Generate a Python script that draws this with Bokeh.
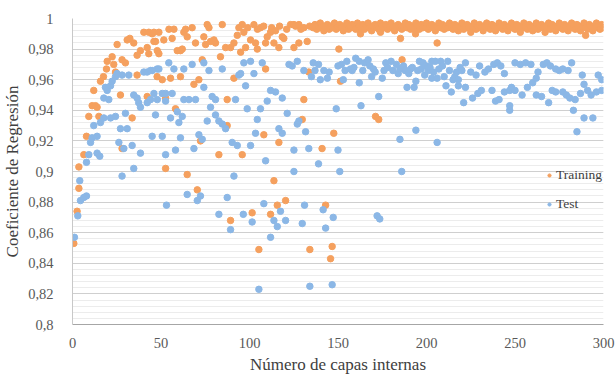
from bokeh.plotting import figure
from bokeh.models import Range1d, FixedTicker, CustomJSTickFormatter, Legend, LegendItem
from bokeh.embed import file_html
from bokeh.resources import INLINE

# ---------------- data ----------------
series_names = ["Training", "Test"]
x_ticks = [0, 50, 100, 150, 200, 250, 300]
y_ticks = [0.8, 0.82, 0.84, 0.86, 0.88, 0.9, 0.92, 0.94, 0.96, 0.98, 1.0]

train_x = [
    0.75, 2.6, 3.6, 3.6, 6.4, 7.9, 9.2, 11.1, 12, 13, 13.9, 14.9, 15.8, 17.5, 19.2, 19.6, 22.4, 23.3, 24.3, 25.2,
    27.1, 28, 28, 29.9, 30.9, 32.4, 33.7, 34.6, 36.5, 36.5, 38.4, 40.3, 42.2, 42.2, 43.1, 43.1, 45, 46, 46, 46.9,
    47.8, 47.9, 48.8, 48.8, 50.7, 51.6, 52.6, 52.6, 54.5, 55.4, 56.3, 57.3, 58.2, 59.2, 61, 61, 62, 62.9, 63.9, 64.8,
    64.8, 67.6, 68.6, 69.5, 70.5, 71.4, 72.3, 73.3, 74.2, 75.2, 76.1, 77.1, 78, 79.9, 80.8, 82.7, 83.6, 84.6, 86.5, 87.4,
    87.4, 89.3, 89.3, 91.2, 91.2, 93.1, 94, 95, 95.9, 95.9, 96.8, 97.8, 99, 100.6, 101.5, 102.5, 103.4, 104.4, 104.5, 105.3,
    106.2, 108, 108.1, 109.1, 109.1, 110, 111.9, 111.9, 112.5, 113.8, 113.8, 114.7, 115.7, 116.6, 116.6, 117, 118.5, 119.4, 120.4, 121,
    123.2, 125.1, 125.1, 126, 127.9, 127.9, 129, 129.8, 130.7, 130.7, 132.6, 133.5, 134, 134.1,
    141, 143, 145.8, 146.7, 147.6, 150.5, 151.4, 162.7, 171.2, 173, 174, 185.3, 186.2, 193.8, 206, 289.9,
    136, 137, 138, 139, 140, 141, 142, 143, 144, 145, 146, 147, 148, 149, 150, 151, 152, 153, 154, 155,
    156, 157, 158, 159, 160, 161, 162, 163, 164, 165, 166, 167, 168, 169, 170, 171, 172, 173, 174, 175,
    176, 177, 178, 179, 180, 181, 182, 183, 184, 185, 186, 187, 188, 189, 190, 191, 192, 193, 194, 195,
    196, 197, 198, 199, 200, 201, 202, 203, 204, 205, 206, 207, 208, 209, 210, 211, 212, 213, 214, 215,
    216, 217, 218, 219, 220, 221, 222, 223, 224, 225, 226, 227, 228, 229, 230, 231, 232, 233, 234, 235,
    236, 237, 238, 239, 240, 241, 242, 243, 244, 245, 246, 247, 248, 249, 250, 251, 252, 253, 254, 255,
    256, 257, 258, 259, 260, 261, 262, 263, 264, 265, 266, 267, 268, 269, 270, 271, 272, 273, 274, 275,
    276, 277, 278, 279, 280, 281, 282, 283, 284, 285, 286, 287, 288, 289, 290, 291, 292, 293, 294, 295,
    296, 297, 298, 299, 300,
]
train_y = [
    0.853, 0.874, 0.889, 0.903, 0.911, 0.923, 0.936, 0.943, 0.953, 0.943, 0.942, 0.936, 0.959, 0.962, 0.967, 0.972, 0.975, 0.970, 0.965, 0.983,
    0.950, 0.973, 0.915, 0.971, 0.986, 0.987, 0.935, 0.984, 0.963, 0.976, 0.979, 0.991, 0.981, 0.949, 0.991, 0.977, 0.990, 0.991, 0.985, 0.985,
    0.962, 0.979, 0.991, 0.977, 0.960, 0.986, 0.948, 0.902, 0.993, 0.961, 0.987, 0.993, 0.941, 0.979, 0.979, 0.962, 0.980, 0.991, 0.993, 0.988,
    0.898, 0.994, 0.957, 0.984, 0.888, 0.960, 0.920, 0.973, 0.988, 0.983, 0.996, 0.994, 0.985, 0.986, 0.984, 0.911, 0.975, 0.996, 0.981, 0.947,
    0.930, 0.981, 0.868, 0.984, 0.961, 0.989, 0.994, 0.978, 0.996, 0.911, 0.991, 0.981, 0.994, 0.986, 0.873, 0.996, 0.984, 0.980, 0.993, 0.849,
    0.994, 0.995, 0.924, 0.984, 0.967, 0.988, 0.991, 0.872, 0.994, 0.984, 0.894, 0.992, 0.878, 0.981, 0.919, 0.995, 0.988, 0.987, 0.881, 0.993,
    0.996, 0.996, 0.981, 0.995, 0.996, 0.984, 0.993, 0.934, 0.994, 0.947, 0.985, 0.965, 0.995, 0.849,
    0.915, 0.878, 0.843, 0.851, 0.925, 0.980, 0.959, 0.990, 0.936, 0.934, 0.991, 0.987, 0.973, 0.990, 0.984, 0.989,
    0.994, 0.996, 0.993, 0.995, 0.997, 0.994, 0.992, 0.995, 0.996, 0.993, 0.995, 0.994, 0.997, 0.993, 0.995, 0.996, 0.994, 0.992, 0.995, 0.997,
    0.993, 0.995, 0.996, 0.994, 0.993, 0.997, 0.995, 0.994, 0.996, 0.993, 0.995, 0.997, 0.994, 0.992, 0.995, 0.996, 0.994, 0.993, 0.997, 0.995,
    0.994, 0.996, 0.993, 0.995, 0.997, 0.994, 0.992, 0.995, 0.996, 0.994, 0.993, 0.995, 0.997, 0.994, 0.996, 0.993, 0.995, 0.994, 0.997, 0.995,
    0.993, 0.996, 0.994, 0.995, 0.997, 0.993, 0.995, 0.996, 0.994, 0.992, 0.995, 0.997, 0.994, 0.996, 0.993, 0.995, 0.994, 0.997, 0.995, 0.993,
    0.996, 0.994, 0.992, 0.995, 0.997, 0.993, 0.995, 0.996, 0.994, 0.991, 0.995, 0.997, 0.993, 0.995, 0.996, 0.994, 0.992, 0.995, 0.997, 0.994,
    0.993, 0.996, 0.995, 0.992, 0.994, 0.997, 0.995, 0.993, 0.996, 0.994, 0.992, 0.995, 0.997, 0.994, 0.993, 0.996, 0.995, 0.991, 0.994, 0.997,
    0.995, 0.993, 0.996, 0.994, 0.992, 0.995, 0.997, 0.993, 0.995, 0.996, 0.994, 0.991, 0.995, 0.997, 0.993, 0.996, 0.994, 0.992, 0.995, 0.997,
    0.994, 0.993, 0.996, 0.995, 0.992, 0.994, 0.997, 0.995, 0.993, 0.996, 0.994, 0.992, 0.995, 0.997, 0.994, 0.993, 0.996, 0.995, 0.992, 0.994,
    0.997, 0.995, 0.993, 0.996, 0.994,
]

test_x = [
    1.1, 3, 4.1, 4.5, 6.4, 7.9, 7.9, 9.2, 10.2, 11.1, 12, 13.9, 13.9, 15.4, 15.8, 17.7, 17.7, 18.6, 19.6, 20.5,
    21.5, 21.5, 22.4, 24.3, 24.3, 25.2, 26.2, 27.1, 28, 28, 29, 29.9, 30.9, 31.8, 33.7, 34.6, 34.6, 36.5, 37.4, 38.4,
    38.4, 40.3, 42.2, 42.2, 44.1, 44.1, 45, 45, 46, 46.9, 47.8, 47.9, 48.8, 50.7, 50.7, 52.6, 52.6, 52.6, 53.1, 54.4,
    55.4, 56.3, 57.3, 58.2, 59.2, 60.1, 61, 62, 62.9, 62.9, 64.8, 65.8, 67.6, 68.6, 69.5, 70.5, 71.4, 72.3, 73.3, 74.2,
    74.2, 76.1, 77.1, 78, 78.9, 80.8, 80.8, 82.7, 82.7, 84.6, 84.6, 86.5, 87.4, 89.3, 90.2, 91.2, 92.1, 93.1, 94, 95,
    96.5, 96.8, 97.8, 98.7, 100.6, 100.6, 101.5, 102.5, 103.4, 104.4, 105.3, 106.2, 107.2, 108.1, 109.1, 110, 111.9, 111.9, 113.8, 114.7,
    115.7, 116.6, 117.5, 118.5, 118.5, 120.4, 121.3, 122.3, 124.1, 125.1, 125.1, 127, 127, 127.9, 129.8, 130.7, 131.1, 131.7, 133.5, 134.1,
    135, 136, 137, 139, 139, 140, 141.6, 142, 143, 144, 145, 146.7, 147.3, 149, 150, 150, 151, 152, 153, 154,
    155, 157, 158, 159, 160, 162, 162, 163, 164, 165, 167, 168, 169, 170, 171, 172.1, 173, 173.6, 175, 176,
    177, 178, 180, 181, 183, 184, 185, 185, 186, 187, 188, 189, 190, 191, 192, 193, 194, 194, 195, 196,
    197, 198, 199, 200, 201, 202, 203, 203, 204, 205, 206, 206, 207, 208, 209, 210, 211, 212, 213, 214,
    215, 216, 217, 218, 218, 219, 220, 221, 222, 222, 225, 226, 228, 229, 230, 231, 233, 235, 237, 238,
    239, 240, 241, 242, 244, 244, 247, 247, 247, 248, 250, 250, 253, 254, 256, 257, 259, 260, 262, 262,
    263, 265, 266, 268, 269, 270, 271, 273, 273, 275, 277, 277, 279, 280, 281, 282, 283, 284, 285, 287,
    288, 289, 289, 291, 293, 294, 296, 297, 299, 299,
]
test_y = [
    0.857, 0.871, 0.894, 0.881, 0.883, 0.884, 0.906, 0.911, 0.919, 0.922, 0.930, 0.923, 0.912, 0.910, 0.932, 0.935, 0.948, 0.955, 0.953, 0.947,
    0.956, 0.935, 0.959, 0.962, 0.936, 0.964, 0.919, 0.928, 0.963, 0.897, 0.915, 0.938, 0.928, 0.963, 0.917, 0.950, 0.902, 0.948, 0.945, 0.942,
    0.912, 0.965, 0.965, 0.945, 0.947, 0.966, 0.966, 0.923, 0.951, 0.937, 0.967, 0.947, 0.967, 0.951, 0.923, 0.951, 0.946, 0.911, 0.878, 0.971,
    0.935, 0.951, 0.967, 0.914, 0.939, 0.932, 0.922, 0.936, 0.967, 0.947, 0.885, 0.947, 0.970, 0.915, 0.947, 0.881, 0.924, 0.884, 0.921, 0.971,
    0.955, 0.933, 0.966, 0.942, 0.949, 0.947, 0.937, 0.933, 0.872, 0.967, 0.931, 0.928, 0.883, 0.862, 0.919, 0.897, 0.947, 0.917, 0.963, 0.964,
    0.872, 0.971, 0.956, 0.941, 0.972, 0.917, 0.867, 0.964, 0.925, 0.934, 0.823, 0.941, 0.971, 0.879, 0.907, 0.946, 0.953, 0.857, 0.868, 0.952,
    0.864, 0.928, 0.874, 0.948, 0.925, 0.868, 0.938, 0.970, 0.969, 0.914, 0.900, 0.972, 0.931, 0.933, 0.866, 0.966, 0.878, 0.926, 0.915, 0.825,
    0.962, 0.971, 0.966, 0.970, 0.905, 0.960, 0.875, 0.966, 0.863, 0.961, 0.965, 0.826, 0.870, 0.941, 0.969, 0.914, 0.900, 0.970, 0.960, 0.966,
    0.972, 0.967, 0.966, 0.968, 0.974, 0.972, 0.958, 0.943, 0.966, 0.971, 0.973, 0.969, 0.962, 0.967, 0.965, 0.871, 0.949, 0.869, 0.961, 0.966,
    0.971, 0.968, 0.972, 0.966, 0.970, 0.964, 0.967, 0.921, 0.900, 0.969, 0.966, 0.955, 0.964, 0.967, 0.968, 0.955, 0.959, 0.927, 0.966, 0.972,
    0.967, 0.971, 0.963, 0.969, 0.966, 0.968, 0.972, 0.961, 0.965, 0.972, 0.961, 0.919, 0.967, 0.972, 0.969, 0.962, 0.956, 0.972, 0.966, 0.952,
    0.960, 0.962, 0.965, 0.960, 0.956, 0.968, 0.966, 0.945, 0.971, 0.955, 0.965, 0.948, 0.963, 0.951, 0.969, 0.953, 0.965, 0.967, 0.953, 0.970,
    0.946, 0.971, 0.947, 0.969, 0.964, 0.952, 0.953, 0.940, 0.943, 0.955, 0.971, 0.953, 0.970, 0.950, 0.971, 0.955, 0.970, 0.958, 0.961, 0.950,
    0.965, 0.949, 0.970, 0.971, 0.945, 0.969, 0.953, 0.967, 0.952, 0.966, 0.967, 0.952, 0.950, 0.966, 0.948, 0.971, 0.940, 0.947, 0.926, 0.951,
    0.963, 0.957, 0.935, 0.953, 0.950, 0.935, 0.952, 0.963, 0.960, 0.953,
]

# ---------------- styling ----------------
ORANGE = "#F5A05E"
BLUE = "#8BB7E6"
SERIF = "Liberation Serif"

p = figure(
    width=615, height=376,
    x_range=Range1d(0, 300), y_range=Range1d(0.8, 1.0),
    output_backend="svg", toolbar_location=None,
    min_border_left=72, min_border_top=18, min_border_right=12, min_border_bottom=49,
)
p.outline_line_color = None
p.background_fill_color = "white"
p.border_fill_color = "white"

r_train = p.scatter(train_x, train_y, size=6.5, color=ORANGE, line_color=ORANGE)
r_test = p.scatter(test_x, test_y, size=6.5, color=BLUE, line_color=BLUE)

# axes
p.xaxis.ticker = FixedTicker(ticks=x_ticks)
minor = [round(0.8 + 0.004 * i, 3) for i in range(51)]
p.yaxis.ticker = FixedTicker(ticks=y_ticks, minor_ticks=minor)
p.yaxis.formatter = CustomJSTickFormatter(
    code="return (Math.round(tick*100)/100).toString().replace('.', ',');")

for ax in (p.xaxis[0], p.yaxis[0]):
    ax.major_tick_line_color = None
    ax.minor_tick_line_color = None
    ax.major_label_text_font = SERIF
    ax.major_label_text_font_size = "14.5px"
    ax.major_label_text_color = "#595959"
    ax.axis_label_text_font = SERIF
    ax.axis_label_text_font_size = "17px"
    ax.axis_label_text_font_style = "normal"
    ax.axis_label_text_color = "#404040"

p.xaxis.axis_label = "Número de capas internas"
p.yaxis.axis_label = "Coeficiente de Regresión"
p.xaxis.axis_line_color = "#a6a6a6"
p.yaxis.axis_line_color = "#c8c8c8"
p.xaxis.major_label_standoff = 7
p.yaxis.major_label_standoff = 13
p.xaxis.axis_label_standoff = 4
p.yaxis.axis_label_standoff = 3

p.xgrid.grid_line_color = None
p.ygrid.grid_line_color = "#cfcfcf"
p.ygrid.minor_grid_line_color = "#ececec"

legend = Legend(
    items=[LegendItem(label=series_names[0], renderers=[r_train]),
           LegendItem(label=series_names[1], renderers=[r_test])],
    location=(473, 112),
    background_fill_alpha=0, border_line_color=None,
    label_text_font=SERIF, label_text_font_size="13.5px", label_text_color="#404040",
    glyph_width=8, glyph_height=8, label_standoff=3, spacing=13, padding=0, margin=0,
)
p.add_layout(legend, "center")

open("out.html", "w").write(file_html(p, INLINE))
